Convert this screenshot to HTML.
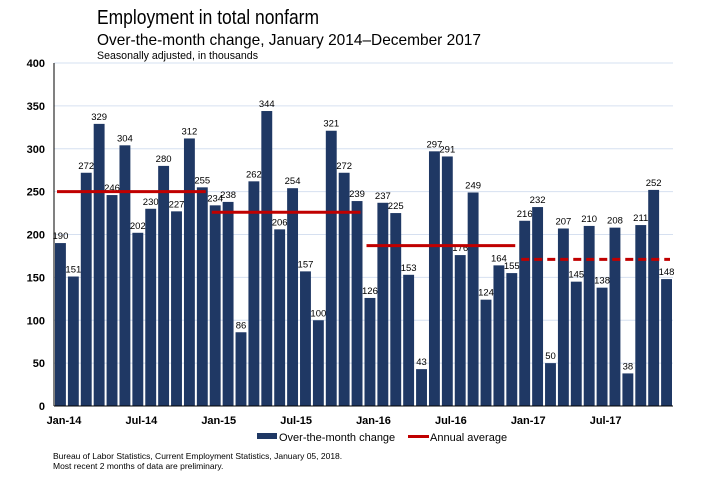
<!DOCTYPE html>
<html><head><meta charset="utf-8"><style>
body{margin:0;background:#fff;width:701px;height:481px;overflow:hidden;font-family:"Liberation Sans",sans-serif}
</style></head><body>
<svg width="701" height="481" style="position:absolute;left:0;top:0">
<text x="97" y="24" font-size="20" fill="#000" textLength="222" lengthAdjust="spacingAndGlyphs">Employment in total nonfarm</text>
<text x="97" y="45" font-size="16" fill="#000" textLength="384" lengthAdjust="spacingAndGlyphs">Over-the-month change, January 2014–December 2017</text>
<text x="97" y="59" font-size="11" fill="#000" textLength="161" lengthAdjust="spacingAndGlyphs">Seasonally adjusted, in thousands</text>
<g id="grid"></g><g id="bars"></g><g id="avg"></g><g id="axes"></g>
<rect x="257" y="433" width="20" height="6" fill="#1f3864"/>
<text x="279" y="441" font-size="11">Over-the-month change</text>
<rect x="408" y="435" width="21" height="3" fill="#c00000"/>
<text x="430" y="441" font-size="11">Annual average</text>
<text x="53" y="459" font-size="8.5">Bureau of Labor Statistics, Current Employment Statistics, January 05, 2018.</text>
<text x="53" y="469" font-size="8.5">Most recent 2 months of data are preliminary.</text>
</svg>
<script>
const values=[190,151,272,329,246,304,202,230,280,227,312,255,234,238,86,262,344,206,254,157,100,321,272,239,126,237,225,153,43,297,291,176,249,124,164,155,216,232,50,207,145,210,138,208,38,211,252,148];
const averages=[250,226,187,171];
const yTicks=[0,50,100,150,200,250,300,350,400];
const xLabels=["Jan-14","Jul-14","Jan-15","Jul-15","Jan-16","Jul-16","Jan-17","Jul-17"];
const NS="http://www.w3.org/2000/svg";
const x0=54,x1=673,step=(x1-x0)/48;
const y=v=>406-v*343/400;
const x=i=>x0+i*step;
function mk(t,a,p){const e=document.createElementNS(NS,t);for(const k in a)e.setAttribute(k,a[k]);document.getElementById(p).appendChild(e);return e;}
yTicks.forEach(v=>{
  if(v>0){const g=mk('line',{x1:x0,x2:x1,y1:y(v),y2:y(v),stroke:'#d6e0f0','stroke-width':1},'grid');
  
  }
  const t=mk('text',{x:45,y:y(v)+4,'font-size':11,'font-weight':'bold','text-anchor':'end'},'axes');t.textContent=v;
  
  
});
values.forEach((v,i)=>{
  const r=mk('rect',{x:x(i)+1,y:y(v),width:step-2,height:y(0)-y(v),fill:'#1f3864'},'bars');
  
  
  const t=mk('text',{x:x(i)+step/2,y:y(v)-4,'font-size':9.5,'text-anchor':'middle',fill:'#000'},'bars');t.textContent=v;
  
  
});
averages.forEach((v,k)=>{
  const a={x1:x(k*12)+3,x2:x(k*12+12)-3,y1:y(v),y2:y(v),stroke:'#c00000','stroke-width':3};
  if(k==3)a['stroke-dasharray']='8,5';
  const l=mk('line',a,'avg');
  
  
});
const ax=mk('line',{x1:x0,x2:x0,y1:y(400),y2:y(0),stroke:'#000'},'axes');


const bx=mk('line',{x1:x0,x2:x1,y1:y(0),y2:y(0),stroke:'#000'},'axes');


xLabels.forEach((s,k)=>{
  const t=mk('text',{x:x(k*6)+10,y:424,'font-size':11,'font-weight':'bold','text-anchor':'middle'},'axes');t.textContent=s;
  
  
});
</script>
</body></html>
